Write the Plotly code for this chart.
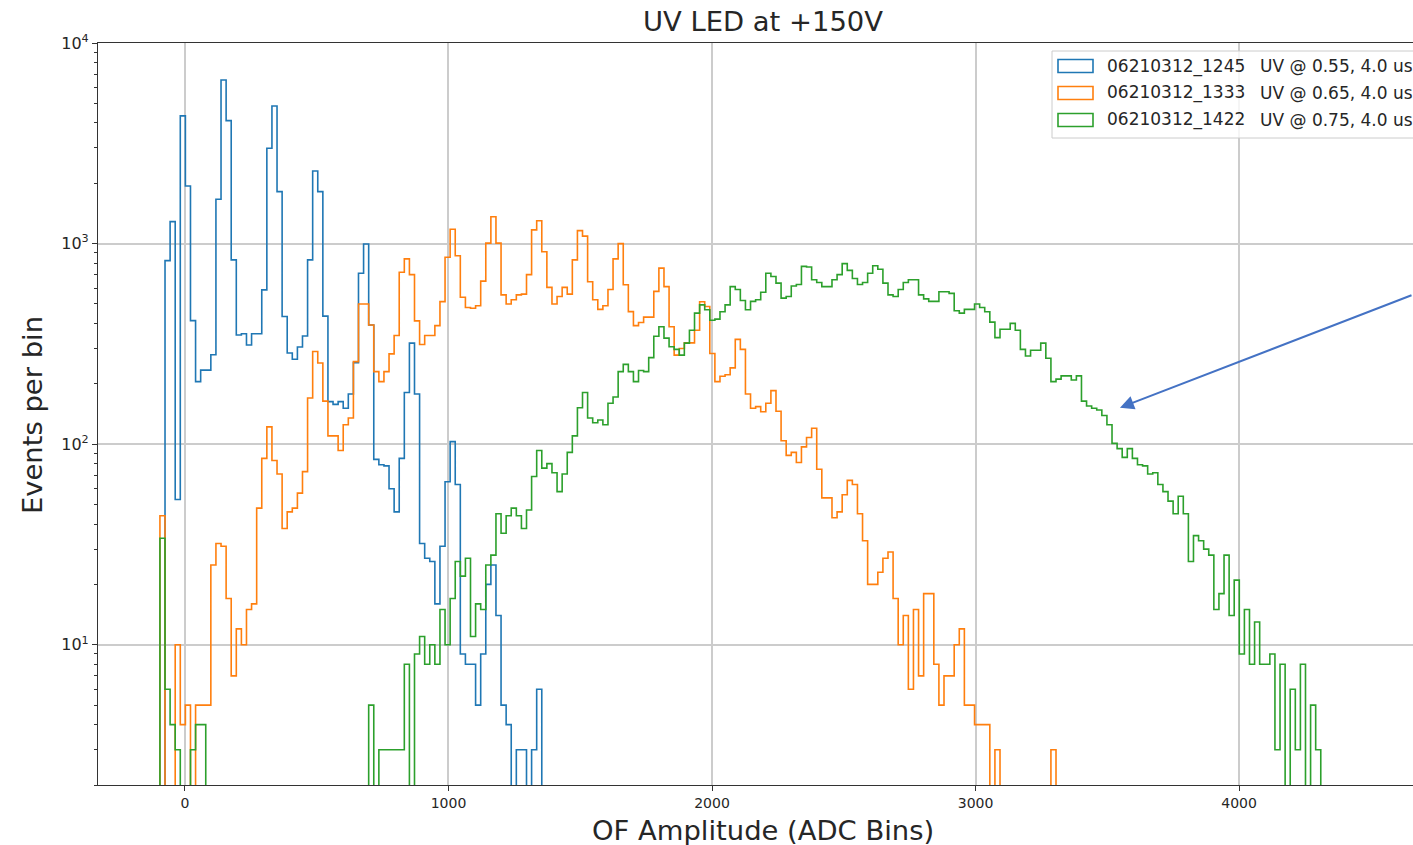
import numpy as np
import plotly.graph_objects as go

# Common binning of the optimal-filter amplitude histograms (ADC bins)
BIN_LO = -95.0
BIN_HI = 4310.0
N_BINS = 228

RUN_LABELS = ["06210312_1245", "06210312_1333", "06210312_1422"]
RUN_SETTINGS = ["UV @ 0.55, 4.0 us", "UV @ 0.65, 4.0 us", "UV @ 0.75, 4.0 us"]
COLORS = ["#1f77b4", "#ff7f0e", "#2ca02c"]

# Events per bin, starting at the first bin
counts_1245 = [
    0, 822, 1287, 53, 4330, 1938, 413, 205, 234, 234,
    279, 1664, 6540, 4100, 830, 350, 355, 312, 355, 355,
    588, 2985, 4855, 1816, 433, 285, 265, 305, 346, 830,
    2300, 1816, 435, 163, 158, 163, 151, 178, 255, 712,
    995, 393, 84, 79, 78, 60, 46, 85, 181, 319,
    178, 32, 27, 26, 16, 31, 65, 103, 63, 9,
    8, 8, 5, 9, 20, 25, 14, 5, 4, 0,
    3, 3, 0, 3, 6,
]

counts_1333 = [
    44, 0, 0, 10, 4, 5, 0, 5, 5, 5,
    25, 32, 31, 17, 7, 12, 10, 15, 16, 48,
    85, 122, 83, 71, 38, 46, 48, 57, 73, 170,
    290, 254, 164, 110, 110, 93, 125, 135, 258, 500,
    500, 393, 230, 205, 230, 282, 348, 720, 839, 700,
    412, 314, 348, 348, 390, 514, 855, 1180, 870, 540,
    480, 476, 490, 650, 1005, 1360, 1005, 555, 500, 525,
    555, 560, 700, 1170, 1300, 910, 605, 500, 545, 605,
    560, 830, 1160, 1090, 645, 525, 470, 490, 590, 839,
    1000, 623, 458, 390, 404, 430, 430, 578, 755, 610,
    385, 278, 300, 320, 320, 370, 513, 486, 283, 205,
    218, 222, 240, 333, 297, 178, 151, 154, 145, 160,
    185, 146, 104, 88, 91, 81, 97, 108, 120, 75,
    54, 54, 43, 46, 56, 66, 63, 45, 33, 20,
    20, 23, 27, 29, 17, 10, 14, 6, 15, 7,
    18, 18, 8, 5, 7, 7, 10, 12, 5, 5,
    4, 4, 4, 0, 3, 0, 0, 0, 0, 0,
    0, 0, 0, 0, 0, 3,
]

counts_1422 = [
    34, 6, 4, 3, 0, 0, 3, 4, 4, 0,
    0, 0, 0, 0, 0, 0, 0, 0, 0, 0,
    0, 0, 0, 0, 0, 0, 0, 0, 0, 0,
    0, 0, 0, 0, 0, 0, 0, 0, 0, 0,
    0, 5, 0, 3, 3, 3, 3, 3, 8, 0,
    9, 11, 8, 10, 8, 15, 10, 17, 26, 22,
    27, 11, 16, 15, 25, 28, 45, 36, 44, 48,
    44, 38, 47, 69, 93, 76, 80, 72, 58, 71,
    91, 110, 152, 181, 135, 128, 132, 125, 160, 172,
    230, 250, 230, 205, 233, 230, 270, 345, 385, 338,
    306, 297, 278, 319, 370, 450, 495, 468, 415, 420,
    457, 495, 610, 590, 520, 468, 515, 525, 572, 712,
    685, 635, 535, 545, 615, 625, 770, 765, 660, 640,
    610, 610, 660, 700, 795, 735, 670, 625, 640, 712,
    775, 745, 635, 555, 545, 590, 640, 660, 660, 555,
    530, 515, 515, 575, 575, 565, 463, 450, 470, 470,
    500, 480, 457, 406, 340, 374, 374, 400, 370, 297,
    275, 294, 294, 319, 268, 205, 211, 219, 219, 209,
    219, 164, 155, 151, 148, 139, 125, 101, 95, 86,
    95, 85, 79, 78, 71, 72, 63, 58, 52, 45,
    55, 45, 26, 35, 33, 30, 28, 15, 18, 28,
    14, 21, 9, 15, 8, 13, 8, 8, 9, 3,
    8, 0, 6, 3, 8, 0, 5, 3,
]

SERIES = [counts_1245, counts_1333, counts_1422]

# Log-axis ticks
MAJOR_TICKS = [10, 100, 1000, 10000]
MAJOR_TEXT = ["10<sup>1</sup>", "10<sup>2</sup>", "10<sup>3</sup>", "10<sup>4</sup>"]
MINOR_TICKS = [m * d for d in (1, 10, 100, 1000) for m in range(2, 10)]
X_TICKS = [0, 1000, 2000, 3000, 4000]

edges = np.linspace(BIN_LO, BIN_HI, N_BINS + 1)

# Empty bins sit below the lower limit of the log axis
FLOOR = 1.0
Y_MIN, Y_MAX = 2.0, 1.0e4
X_MIN, X_MAX = -330.0, 4660.0

fig = go.Figure()

for counts, color, label in zip(SERIES, COLORS, RUN_LABELS):
    c = np.asarray(counts, dtype=float)
    c = np.where(c > 0, c, FLOOR)
    e = edges[: len(c) + 1]
    # outline of a step histogram: rise at the first edge, fall at the last
    xs = np.concatenate([[e[0]], e[:-1], [e[-1], e[-1]]])
    ys = np.concatenate([[FLOOR], c, [c[-1], FLOOR]])
    fig.add_trace(go.Scatter(
        x=xs, y=ys, mode="lines", name=label,
        line=dict(color=color, width=1.6, shape="hv"),
        showlegend=False, hoverinfo="skip",
    ))

PLOT_L, PLOT_R, PLOT_T, PLOT_B = 98, 1413, 43, 785
W, H = 1413, 845


def px_x(px):
    return (px - PLOT_L) / (PLOT_R - PLOT_L)


def px_y(py):
    return (PLOT_B - py) / (PLOT_B - PLOT_T)


axis_col = "#333333"
grid_col = "#cccccc"
text_col = "#262626"
LABEL_SIZE = 27.4

fig.update_layout(
    width=W, height=H,
    margin=dict(l=PLOT_L, r=W - PLOT_R, t=PLOT_T, b=H - PLOT_B),
    plot_bgcolor="white", paper_bgcolor="white",
    showlegend=False,
    font=dict(family="DejaVu Sans", color=text_col),
    title=dict(
        text="UV LED at +150V", x=px_x(763), xref="paper", xanchor="center",
        y=1 - 21 / H, yref="container", yanchor="middle",
        font=dict(size=LABEL_SIZE, color=text_col),
    ),
)

fig.update_xaxes(
    range=[X_MIN, X_MAX],
    tickmode="array", tickvals=X_TICKS,
    ticks="outside", ticklen=5, tickwidth=1, tickcolor=axis_col,
    tickfont=dict(size=14, color=text_col),
    showgrid=True, gridcolor=grid_col, gridwidth=1.5,
    showline=True, linecolor=axis_col, linewidth=1.2, mirror=True,
    zeroline=False,
)

fig.update_yaxes(
    type="log",
    range=[np.log10(Y_MIN), np.log10(Y_MAX)],
    tickmode="array", tickvals=MAJOR_TICKS, ticktext=MAJOR_TEXT,
    ticks="outside", ticklen=5, tickwidth=1, tickcolor=axis_col,
    tickfont=dict(size=16, color=text_col),
    minor=dict(tickmode="array", tickvals=MINOR_TICKS, ticks="outside",
               ticklen=3, tickwidth=1, tickcolor=axis_col, showgrid=False),
    showgrid=True, gridcolor=grid_col, gridwidth=1.5,
    showline=True, linecolor=axis_col, linewidth=1.2, mirror=False,
    zeroline=False,
)

annotations = [
    dict(text="OF Amplitude (ADC Bins)", x=px_x(763), y=px_y(830),
         xref="paper", yref="paper", xanchor="center", yanchor="middle",
         showarrow=False, font=dict(size=LABEL_SIZE, color=text_col)),
    dict(text="Events per bin", x=px_x(32), y=px_y(415),
         xref="paper", yref="paper", xanchor="center", yanchor="middle",
         textangle=-90, showarrow=False, font=dict(size=LABEL_SIZE, color=text_col)),
]

# Pointer to the falling edge of the 0.75 run
annotations.append(dict(
    x=3548, y=np.log10(152), xref="x", yref="y", text="",
    showarrow=True, arrowhead=2, arrowsize=1.4, arrowwidth=2,
    arrowcolor="#4472c4", ax=300, ay=-113, standoff=0,
))

shapes = [
    dict(type="rect", xref="paper", yref="paper",
         x0=px_x(1052), x1=px_x(1430), y0=px_y(138), y1=px_y(51),
         line=dict(color="#cccccc", width=1), fillcolor="rgba(255,255,255,0.8)",
         layer="above"),
]

row_y = [66, 93, 120]
for color, label, setting, ry in zip(COLORS, RUN_LABELS, RUN_SETTINGS, row_y):
    shapes.append(dict(
        type="rect", xref="paper", yref="paper",
        x0=px_x(1058), x1=px_x(1093), y0=px_y(ry + 6.5), y1=px_y(ry - 6.5),
        line=dict(color=color, width=1.6), fillcolor="rgba(0,0,0,0)", layer="above",
    ))
    annotations.append(dict(
        text=label, x=px_x(1105), y=px_y(ry), xref="paper", yref="paper",
        xanchor="left", yanchor="middle", showarrow=False,
        font=dict(size=17, color=text_col),
    ))
    annotations.append(dict(
        text=setting, x=px_x(1258), y=px_y(ry), xref="paper", yref="paper",
        xanchor="left", yanchor="middle", showarrow=False,
        font=dict(size=17, color=text_col),
    ))

fig.update_layout(annotations=annotations, shapes=shapes)

fig.write_html("out.html")
